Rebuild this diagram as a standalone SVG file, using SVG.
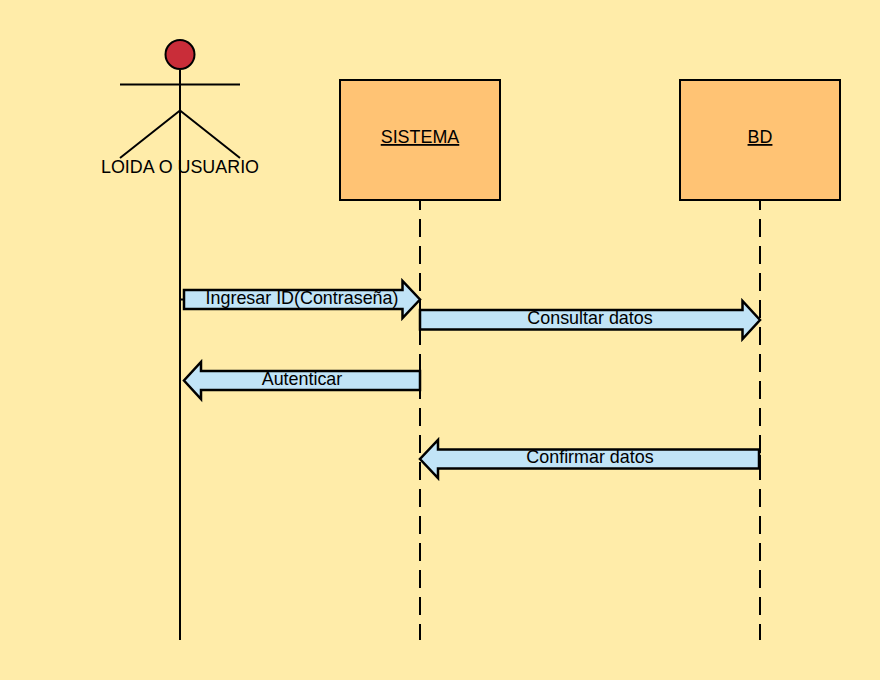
<svg xmlns="http://www.w3.org/2000/svg" width="880" height="680" viewBox="0 0 880 680">
<style>
text{font-family:"Liberation Sans",Arial,sans-serif;font-size:17.9px;fill:#000;text-anchor:middle}
.l{fill:none;stroke:#000;stroke-width:2}
.d{stroke-dasharray:18 9;stroke-dashoffset:8}
.box{fill:#ffc374;stroke:#000;stroke-width:2}
.arrow{fill:#c1e4f7;stroke:#000;stroke-width:2.500;stroke-linejoin:miter}
</style>
<rect width="880" height="680" fill="#ffeca9"/>
<g id="connectors">
<path class="l" d="M180 70V640"/>
<path class="l d" d="M420 200V640"/>
<path class="l d" d="M760 200V640"/>
</g>
<g id="actor">
<circle cx="180" cy="54.500" r="14.500" fill="#c92d39" stroke="#000" stroke-width="2"/>
<path class="l" d="M120 84.500H240M120 158L180 110.500L240 158"/>
<text x="180" y="172.500">LOIDA O USUARIO</text>
</g>
<g id="sistema">
<rect class="box" x="340" y="80" width="160" height="120"/>
<text x="420" y="143" text-decoration="underline">SISTEMA</text>
</g>
<g id="bd">
<rect class="box" x="680" y="80" width="160" height="120"/>
<text x="760" y="143" text-decoration="underline">BD</text>
</g>
<g id="msg1">
<path class="l" d="M180 299.500H184"/>
<path class="arrow" d="M184 290H402.500V281L420 299.500L402.500 318V309H184Z"/>
<text x="302" y="303.500">Ingresar ID(Contraseña)</text>
</g>
<g id="msg2">
<path class="arrow" d="M420 310H742.500V301L760 320L742.500 339V329.500H420Z"/>
<text x="590" y="323.500">Consultar datos</text>
</g>
<g id="msg3">
<path class="arrow" d="M420 371H201V362L184 380.500L201 399V390H420Z"/>
<text x="302" y="384.500">Autenticar</text>
</g>
<g id="msg4">
<path class="arrow" d="M759 449.500H438V440L420 459L438 478V468.500H759Z"/>
<path class="l" d="M760 455V470"/>
<text x="590" y="462.500">Confirmar datos</text>
</g>
</svg>
